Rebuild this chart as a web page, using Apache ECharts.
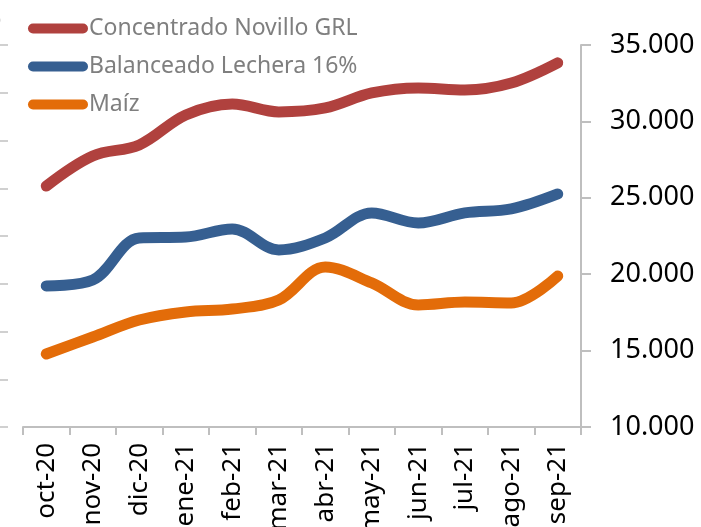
<!DOCTYPE html>
<html>
<head>
<meta charset="utf-8">
<script src="https://cdn.jsdelivr.net/npm/echarts@6/dist/echarts.min.js"></script>
<style>
html,body{margin:0;padding:0;background:#fff;}
#chart{width:701px;height:527px;}
</style>
</head>
<body>
<div id="chart"></div>
<script>
var categories = ['oct-20','nov-20','dic-20','ene-21','feb-21','mar-21','abr-21','may-21','jun-21','jul-21','ago-21','sep-21'];
var concentrado = [25770, 27740, 28460, 30420, 31140, 30620, 30880, 31860, 32190, 32060, 32510, 33830];
var balanceado  = [19230, 19620, 22370, 22430, 22960, 21590, 22370, 24010, 23350, 24010, 24270, 25250];
var maiz        = [14780, 15890, 17000, 17530, 17720, 18310, 20470, 19430, 17990, 18180, 18120, 19880];
var seriesNames = ['Concentrado Novillo GRL', 'Balanceado Lechera 16%', 'Maíz'];
var seriesColors = ['#B0413E', '#365F91', '#E36C09'];
var rightTicks = { min: 10000, max: 35000, interval: 5000 };

var chart = echarts.init(document.getElementById('chart'), null, {renderer: 'canvas'});
var font = 'Noto Sans';
function fmt(v){ return String(v).replace(/\B(?=(\d{3})+(?!\d))/g, '.'); }
var dataSets = [concentrado, balanceado, maiz];
var series = dataSets.map(function(d, i){
  return {
    name: seriesNames[i],
    type: 'line',
    yAxisIndex: 0,
    data: d,
    smooth: 0.35,
    symbol: 'none',
    lineStyle: { width: 11, color: seriesColors[i], cap: 'round', join: 'round' },
    itemStyle: { color: seriesColors[i] },
    z: 3 - i
  };
});
var pill = 'path://M5,0 L55,0 A5,5 0 0 1 55,10 L5,10 A5,5 0 0 1 5,0 Z';
chart.setOption({
  animation: false,
  backgroundColor: '#ffffff',
  textStyle: { fontFamily: font },
  legend: {
    orient: 'vertical',
    left: 23,
    top: 12,
    itemWidth: 60,
    itemHeight: 10,
    itemGap: 15,
    icon: pill,
    data: seriesNames,
    textStyle: { color: '#7F7F7F', fontSize: 23, fontFamily: font, padding: [0,0,0,-4] }
  },
  grid: { left: 23, right: 120, top: 45, bottom: 100, containLabel: false, outerBoundsMode: 'none' },
  xAxis: {
    type: 'category',
    data: categories,
    boundaryGap: true,
    axisLine: { show: true, lineStyle: { color: '#BFBFBF', width: 2 } },
    axisTick: { show: true, length: 8, lineStyle: { color: '#BFBFBF', width: 2 }, alignWithLabel: false },
    axisLabel: { rotate: 90, color: '#000', fontSize: 26, fontFamily: font, margin: 16, interval: 0 }
  },
  yAxis: [
    {
      type: 'value',
      position: 'right',
      min: rightTicks.min, max: rightTicks.max, interval: rightTicks.interval,
      splitLine: { show: false },
      axisLine: { show: true, lineStyle: { color: '#BFBFBF', width: 2 } },
      axisTick: { show: true, length: 10, lineStyle: { color: '#BFBFBF', width: 2 } },
      axisLabel: { color: '#000', fontSize: 27, fontFamily: font, margin: 29, formatter: fmt }
    },
    {
      type: 'value',
      position: 'left',
      offset: 15,
      min: 0, max: 8, interval: 1,
      splitLine: { show: false },
      axisLine: { show: false },
      axisTick: { show: true, length: 9, lineStyle: { color: '#D0D0D0', width: 2 } },
      axisLabel: { show: false }
    }
  ],
  graphic: [
    { type: 'text', left: -14, top: 9, style: { text: '0', font: '27px "Noto Sans"', fill: '#000' } }
  ],
  series: series
});
</script>
</body>
</html>
